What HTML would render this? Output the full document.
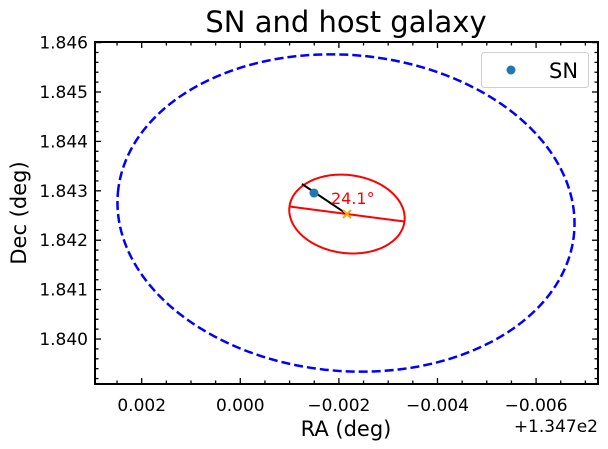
<!DOCTYPE html>
<html><head><meta charset="utf-8"><style>
body{margin:0;background:#fff}
svg{display:block;font-family:"DejaVu Sans","Liberation Sans",sans-serif}
</style></head><body>
<svg id="c" width="608" height="449" viewBox="0 0 608 449"></svg>
<script>
const xTicks=[0.002,0,-0.002,-0.004,-0.006];
const xTickLabels=["0.002","0.000","\u22120.002","\u22120.004","\u22120.006"];
const yTicks=[1.840,1.841,1.842,1.843,1.844,1.845,1.846];
const yTickLabels=["1.840","1.841","1.842","1.843","1.844","1.845","1.846"];
const hostEllipse=[-0.002144,1.842551,0.004645,0.003198,5];
const snEllipse=[-0.002164,1.842530,0.001176,0.00079,7.4];
const hostCenter=[-0.002164,1.842530];
const snPoint=[-0.001495,1.842955];
const angleLineEnd=[-0.001252,1.843138];
const angleLabel=["24.1\u00b0"];

const L=95,R=598,T=42,B=384;
const xmin=0.002947,xmax=-0.007256,ymin=1.83909,ymax=1.846012;
const X=v=>L+(v-xmin)/(xmax-xmin)*(R-L);
const Y=v=>B-(v-ymin)/(ymax-ymin)*(B-T);
const svg=document.getElementById('c');
const NS='http://www.w3.org/2000/svg';
function mk(tag,attrs,txt){const e=document.createElementNS(NS,tag);for(const k in attrs)e.setAttribute(k,attrs[k]);if(txt!==undefined)e.textContent=txt;svg.appendChild(e);return e;}
function ellPts(p){const [cx,cy,a,b,ang]=p;const th=ang*Math.PI/180;let s=[];for(let i=0;i<=200;i++){const t=i/200*2*Math.PI;const dx=a*Math.cos(t)*Math.cos(th)-b*Math.sin(t)*Math.sin(th);const dy=a*Math.cos(t)*Math.sin(th)+b*Math.sin(t)*Math.cos(th);s.push(X(cx+dx).toFixed(2)+','+Y(cy+dy).toFixed(2));}return s.join(' ');}

let e;
e=mk('text',{x:346,y:32,'text-anchor':'middle','font-size':'29'},'SN and host galaxy');


e=mk('text',{x:346,y:436,'text-anchor':'middle','font-size':'21'},'RA (deg)');


e=mk('text',{x:26,y:213,'text-anchor':'middle','font-size':'21',transform:'rotate(-90 26 213)'},'Dec (deg)');


e=mk('text',{x:598,y:432,'text-anchor':'end','font-size':'17'},'+1.347e2');



for(let v=0.003;v>=-0.0075;v-=0.0005){const px=X(v);if(px<L||px>R)continue;const major=Math.abs(Math.round(v/0.002)*0.002-v)<1e-7;const len=major?6:3.5;
 e=mk('line',{x1:px,x2:px,y1:B,y2:B-len,stroke:'#000','stroke-width':1.3});
 e=mk('line',{x1:px,x2:px,y1:T,y2:T+len,stroke:'#000','stroke-width':1.3});}
xTicks.forEach((v,i)=>{e=mk('text',{x:X(v),y:411,'text-anchor':'middle','font-size':'17'},xTickLabels[i]);});
for(let k=0;k<=40;k++){const v=1.839+k*0.0002;const py=Y(v);if(py<T-0.5||py>B)continue;const major=k%5===0;const len=major?6:3.5;
 e=mk('line',{x1:L,x2:L+len,y1:py,y2:py,stroke:'#000','stroke-width':1.3});
 e=mk('line',{x1:R,x2:R-len,y1:py,y2:py,stroke:'#000','stroke-width':1.3});}
yTicks.forEach((v,i)=>{e=mk('text',{x:88,y:Y(v)+6,'text-anchor':'end','font-size':'17'},yTickLabels[i]);});

e=mk('polyline',{points:ellPts(hostEllipse),fill:'none',stroke:'#0000ff','stroke-width':2.5,'stroke-dasharray':'9,4'});


e=mk('polyline',{points:ellPts(snEllipse),fill:'none',stroke:'#ff0000','stroke-width':2});


{const [cx,cy,a,b,ang]=snEllipse;const th=ang*Math.PI/180;
e=mk('line',{x1:X(cx+a*Math.cos(th)),y1:Y(cy+a*Math.sin(th)),x2:X(cx-a*Math.cos(th)),y2:Y(cy-a*Math.sin(th)),stroke:'#ff0000','stroke-width':2});

}
e=mk('line',{x1:X(hostCenter[0]),y1:Y(hostCenter[1]),x2:X(angleLineEnd[0]),y2:Y(angleLineEnd[1]),stroke:'#000','stroke-width':2});


e=mk('circle',{cx:X(snPoint[0]),cy:Y(snPoint[1]),r:4.5,fill:'#1f77b4'});


{const hx=X(hostCenter[0]),hy=Y(hostCenter[1]);
e=mk('path',{d:`M${hx-4},${hy-4}L${hx+4},${hy+4}M${hx-4},${hy+4}L${hx+4},${hy-4}`,stroke:'#ffa500','stroke-width':2});

}
e=mk('text',{x:X(hostCenter[0])-16,y:Y(hostCenter[1])-10,'font-size':'16',fill:'#ff0000'},angleLabel[0]);



e=mk('rect',{x:L,y:T,width:R-L,height:B-T,fill:'none',stroke:'#000','stroke-width':2});



e=mk('rect',{x:481.5,y:52.5,width:107,height:35,rx:3,fill:'#fff','fill-opacity':0.8,stroke:'#d0d0d0','stroke-width':1});


e=mk('circle',{cx:511,cy:70,r:4.5,fill:'#1f77b4'});


e=mk('text',{x:549,y:78,'font-size':'21'},'SN');


</script>
</body></html>
